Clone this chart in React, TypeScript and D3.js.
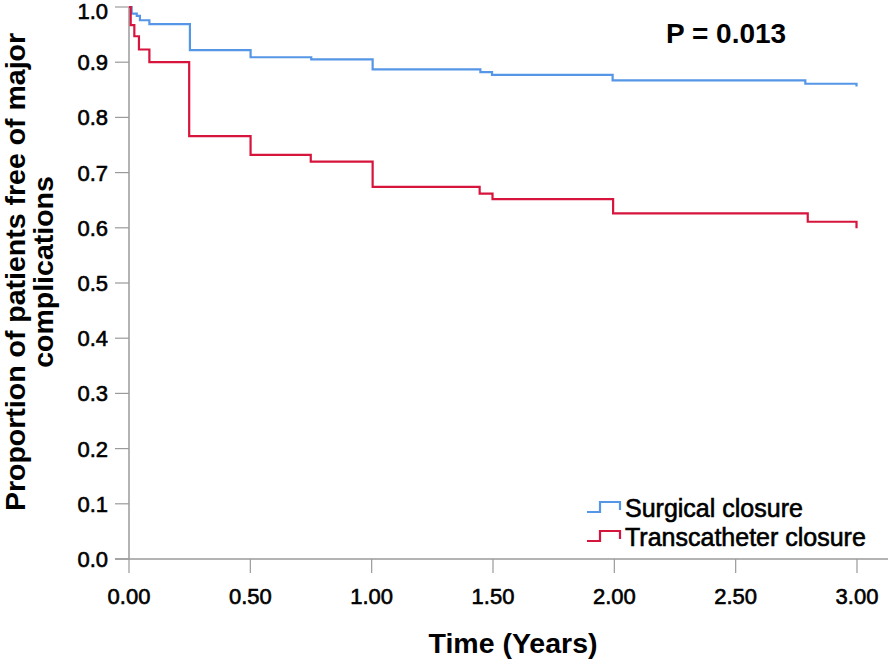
import React from "react";
import * as d3 from "d3";

const xTicks = [0, 0.5, 1, 1.5, 2, 2.5, 3];
const yTicks = [0, 0.1, 0.2, 0.3, 0.4, 0.5, 0.6, 0.7, 0.8, 0.9, 1.0];

const surgicalTimes = [0, 0.011, 0.032, 0.045, 0.084, 0.251, 0.501, 0.751, 1.004, 1.448, 1.496, 1.993, 2.787, 2.998];
const surgicalValues = [1, 0.988, 0.984, 0.976, 0.969, 0.922, 0.909, 0.905, 0.887, 0.882, 0.877, 0.867, 0.861, 0.856];

const transTimes = [0, 0.007, 0.022, 0.041, 0.084, 0.248, 0.501, 0.749, 1.004, 1.445, 1.498, 1.995, 2.797, 2.998];
const transValues = [1, 0.967, 0.947, 0.923, 0.9, 0.766, 0.732, 0.72, 0.674, 0.662, 0.652, 0.626, 0.611, 0.599];

const seriesNames = ["Surgical closure", "Transcatheter closure"];
const seriesColors = ["#5596e6", "#d6143c"];

const W = 896;
const H = 663;
const FONT = "Arial, 'Liberation Sans', Helvetica, sans-serif";
const AXIS = "#9a9a9a";

export default function App() {
  const x = d3.scaleLinear().domain([0, 3]).range([129, 857]);
  const y = d3.scaleLinear().domain([0, 1]).range([559, 7]);

  const line = d3
    .line<[number, number]>()
    .x((d) => x(d[0]))
    .y((d) => y(d[1]))
    .curve(d3.curveStepAfter);

  const series = [
    surgicalTimes.map((t, i) => [t, surgicalValues[i]] as [number, number]),
    transTimes.map((t, i) => [t, transValues[i]] as [number, number]),
  ];

  const legendY = [512, 541];
  const medium = { stroke: "#000", strokeWidth: 0.6 };

  return (
    <svg
      width={W}
      height={H}
      style={{ position: "absolute", left: 0, top: 0, background: "#fff" }}
      fontFamily={FONT}
    >
      {/* axes */}
      <line x1={x(0)} x2={x(0)} y1={y(1)} y2={y(0)} stroke={AXIS} strokeWidth={1.5} />
      <line x1={115} x2={888} y1={y(0)} y2={y(0)} stroke={AXIS} strokeWidth={1.5} />
      {yTicks.map((t) => (
        <g key={"y" + t}>
          <line x1={115} x2={x(0)} y1={y(t)} y2={y(t)} stroke={AXIS} strokeWidth={1.2} />
          <text
            x={108}
            y={Math.max(y(t) + 8, 19)}
            textAnchor="end"
            fontSize={22}
            fill="#000"
            {...medium}
          >
            {t.toFixed(1)}
          </text>
        </g>
      ))}
      {xTicks.map((t) => (
        <g key={"x" + t}>
          <line x1={x(t)} x2={x(t)} y1={y(0)} y2={y(0) + 14} stroke={AXIS} strokeWidth={1.2} />
          <text x={x(t)} y={604} textAnchor="middle" fontSize={22} fill="#000" {...medium}>
            {t.toFixed(2)}
          </text>
        </g>
      ))}

      {/* curves */}
      {series.map((s, i) => (
        <path key={i} d={line(s) || ""} fill="none" stroke={seriesColors[i]} strokeWidth={2.2} />
      ))}

      {/* titles */}
      <text x={513} y={653} textAnchor="middle" fontSize={28.5} fontWeight="bold" fill="#000">
        Time (Years)
      </text>
      <g transform="translate(0,272) rotate(-90)">
        <text x={0} y={25} textAnchor="middle" fontSize={28.5} fontWeight="bold" fill="#000">
          Proportion of patients free of major
        </text>
        <text x={0} y={53} textAnchor="middle" fontSize={28.5} fontWeight="bold" fill="#000">
          complications
        </text>
      </g>

      <text x={666} y={43} fontSize={28} fontWeight="bold" fill="#000">
        P = 0.013
      </text>

      {/* legend */}
      {seriesNames.map((name, i) => {
        const ly = legendY[i];
        return (
          <g key={name}>
            <path
              d={`M587,${ly} H600 V${ly - 10} H620 V${ly - 2}`}
              fill="none"
              stroke={seriesColors[i]}
              strokeWidth={2.2}
            />
            <text x={625} y={ly + 5} fontSize={25} fill="#000" {...medium}>
              {name}
            </text>
          </g>
        );
      })}
    </svg>
  );
}
